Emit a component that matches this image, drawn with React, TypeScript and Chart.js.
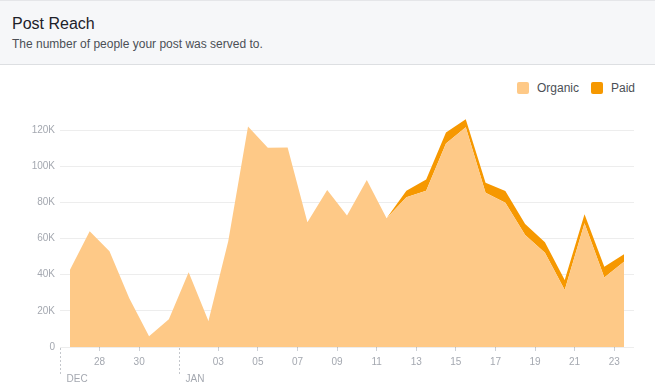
import { useEffect, useRef } from 'react';
import { Chart, registerables } from 'chart.js';

Chart.register(...registerables);

// Day-of-month for each daily data point (Dec 26 -> Jan 23)
const days = [26, 27, 28, 29, 30, 31, 1, 2, 3, 4, 5, 6, 7, 8, 9, 10, 11, 12, 13, 14, 15, 16, 17, 18, 19, 20, 21, 22, 23];
const months = ['DEC', 'JAN'];
const monthStartIndex = [0, 6];

// Post reach (people)
const organic = [42600, 64000, 53000, 27000, 6000, 15300, 41300, 14400, 58500, 122000, 110200, 110400, 69000, 86800, 72800, 92400, 71200, 82800, 86500, 112600, 121500, 85300, 79800, 61900, 52200, 31500, 68400, 38500, 47200];
const paid = [0, 0, 0, 0, 0, 0, 0, 0, 0, 0, 0, 0, 0, 0, 0, 0, 0, 3700, 6200, 6100, 4500, 5600, 6500, 6100, 5700, 5500, 5000, 5900, 4200];

const yTickValues = [0, 20000, 40000, 60000, 80000, 100000, 120000];
const xTickIndex = [2, 4, 8, 10, 12, 14, 16, 18, 20, 22, 24, 26, 28];

const ORGANIC = '#fec987';
const PAID = '#f69800';
const FONT = '"Liberation Sans", Arial, Helvetica, sans-serif';
const TICK_COLOR = '#a4a8b0';

const monthMarkers = {
  id: 'monthMarkers',
  afterDraw(chart: any) {
    const ctx = chart.ctx;
    const xs = chart.scales.x;
    const bottom = chart.chartArea.bottom;
    ctx.save();
    ctx.strokeStyle = '#c4c7cc';
    ctx.lineWidth = 1;
    ctx.setLineDash([2, 2]);
    ctx.font = `10px ${FONT}`;
    ctx.fillStyle = TICK_COLOR;
    ctx.textBaseline = 'middle';
    ctx.textAlign = 'left';
    monthStartIndex.forEach((v, k) => {
      const px = Math.round(xs.getPixelForValue(v)) + 0.5;
      ctx.beginPath();
      ctx.moveTo(px, bottom + 1);
      ctx.lineTo(px, bottom + 28);
      ctx.stroke();
      ctx.fillText(months[k], px + 6, bottom + 32);
    });
    ctx.restore();
  },
};

export default function App() {
  const ref = useRef<HTMLCanvasElement>(null);

  useEffect(() => {
    if (!ref.current) return;
    const chart = new Chart(ref.current, {
      type: 'line',
      data: {
        datasets: [
          {
            label: 'Organic',
            data: organic.map((v, i) => ({ x: i + 0.5, y: v })),
            backgroundColor: ORGANIC,
            borderWidth: 0,
            pointRadius: 0,
            fill: 'origin',
            tension: 0,
          },
          {
            label: 'Paid',
            data: paid.map((v, i) => ({ x: i + 0.5, y: v })),
            backgroundColor: PAID,
            borderWidth: 0,
            pointRadius: 0,
            fill: '-1',
            tension: 0,
          },
        ],
      },
      options: {
        animation: false,
        responsive: false,
        devicePixelRatio: 1,
        layout: { padding: { top: 47, right: 21, bottom: 0, left: 0 } },
        plugins: { legend: { display: false }, tooltip: { enabled: false } },
        scales: {
          x: {
            type: 'linear',
            min: 0,
            max: 29,
            afterBuildTicks: (s: any) => {
              s.ticks = xTickIndex.map((v) => ({ value: v }));
            },
            afterFit: (s: any) => {
              s.height = 44;
            },
            ticks: {
              autoSkip: false,
              maxRotation: 0,
              padding: 5,
              color: TICK_COLOR,
              font: { size: 10, family: FONT },
              callback: (v: any) => String(days[v]).padStart(2, '0'),
            },
            grid: { drawOnChartArea: false, drawTicks: true, tickLength: 4, color: '#ccd0d5' },
            border: { display: false },
          },
          y: {
            min: 0,
            max: 130000,
            stacked: true,
            z: 1,
            afterBuildTicks: (s: any) => {
              s.ticks = yTickValues.map((v) => ({ value: v }));
            },
            afterFit: (s: any) => {
              s.width = 60;
            },
            ticks: {
              padding: 5,
              color: TICK_COLOR,
              font: { size: 10, family: FONT },
              callback: (v: any) => (v === 0 ? '0' : v / 1000 + 'K'),
            },
            grid: { color: 'rgba(0,0,0,0.07)', drawTicks: false },
            border: { display: false },
          },
        },
      },
      plugins: [monthMarkers],
    });
    return () => chart.destroy();
  }, []);

  const legendItem = (color: string, text: string, left: number) => (
    <div style={{ position: 'absolute', left, top: 82, height: 12, display: 'flex', alignItems: 'center' }}>
      <div style={{ width: 12, height: 12, borderRadius: 2, background: color }} />
      <span style={{ marginLeft: 8, fontSize: 12, lineHeight: '12px', color: '#4b4f56', fontFamily: FONT }}>{text}</span>
    </div>
  );

  return (
    <div style={{ position: 'absolute', left: 0, top: 0, width: 655, height: 391, background: '#fff', fontFamily: FONT, overflow: 'hidden' }}>
      <div
        style={{
          position: 'absolute',
          left: 0,
          top: 0,
          width: 655,
          height: 63,
          background: '#f6f7f9',
          borderTop: '1px solid #e5e6e9',
          borderBottom: '1px solid #dddfe2',
        }}
      >
        <div style={{ position: 'absolute', left: 12, top: 14, fontSize: 16, lineHeight: '18px', color: '#1d2129' }}>Post Reach</div>
        <div style={{ position: 'absolute', left: 12, top: 36, fontSize: 12, lineHeight: '14px', color: '#4b4f56' }}>
          The number of people your post was served to.
        </div>
      </div>
      {legendItem(ORGANIC, 'Organic', 517)}
      {legendItem(PAID, 'Paid', 591)}
      <canvas ref={ref} width={655} height={326} style={{ position: 'absolute', left: 0, top: 65, display: 'block' }} />
    </div>
  );
}
